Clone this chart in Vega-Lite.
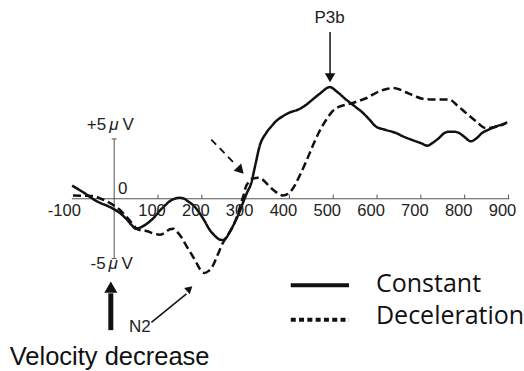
{
  "$schema": "https://vega.github.io/schema/vega-lite/v6.json",
  "width": 524,
  "height": 371,
  "padding": 0,
  "autosize": {"type": "fit", "contains": "padding"},
  "background": "white",
  "config": {"view": {"stroke": null}},
  "resolve": {"scale": {"strokeDash": "independent"}},
  "datasets": {
    "erp": [
      {"cond": "Constant", "t": -96, "v": 1.1},
      {"cond": "Constant", "t": -80, "v": 0.75},
      {"cond": "Constant", "t": -63, "v": 0.36},
      {"cond": "Constant", "t": -45, "v": -0.1},
      {"cond": "Constant", "t": -33, "v": -0.33},
      {"cond": "Constant", "t": -15, "v": -0.6},
      {"cond": "Constant", "t": 1, "v": -0.9},
      {"cond": "Constant", "t": 15, "v": -1.25},
      {"cond": "Constant", "t": 28, "v": -1.7},
      {"cond": "Constant", "t": 40, "v": -2.2},
      {"cond": "Constant", "t": 49, "v": -2.5},
      {"cond": "Constant", "t": 60, "v": -2.4},
      {"cond": "Constant", "t": 74, "v": -2.1},
      {"cond": "Constant", "t": 90, "v": -1.6},
      {"cond": "Constant", "t": 104, "v": -1.0},
      {"cond": "Constant", "t": 115, "v": -0.6},
      {"cond": "Constant", "t": 127, "v": -0.2},
      {"cond": "Constant", "t": 138, "v": 0.0},
      {"cond": "Constant", "t": 149, "v": 0.08},
      {"cond": "Constant", "t": 160, "v": 0.0},
      {"cond": "Constant", "t": 168, "v": -0.2},
      {"cond": "Constant", "t": 182, "v": -0.6},
      {"cond": "Constant", "t": 195, "v": -1.2},
      {"cond": "Constant", "t": 207, "v": -1.9},
      {"cond": "Constant", "t": 218, "v": -2.6},
      {"cond": "Constant", "t": 230, "v": -3.1},
      {"cond": "Constant", "t": 240, "v": -3.4},
      {"cond": "Constant", "t": 248, "v": -3.45},
      {"cond": "Constant", "t": 256, "v": -3.25},
      {"cond": "Constant", "t": 265, "v": -2.7},
      {"cond": "Constant", "t": 275, "v": -2.0},
      {"cond": "Constant", "t": 285, "v": -1.2},
      {"cond": "Constant", "t": 294, "v": -0.33},
      {"cond": "Constant", "t": 303, "v": 0.5},
      {"cond": "Constant", "t": 313, "v": 1.33},
      {"cond": "Constant", "t": 322, "v": 2.8},
      {"cond": "Constant", "t": 332, "v": 4.4},
      {"cond": "Constant", "t": 347, "v": 5.5},
      {"cond": "Constant", "t": 360, "v": 6.1},
      {"cond": "Constant", "t": 370, "v": 6.5},
      {"cond": "Constant", "t": 385, "v": 6.9},
      {"cond": "Constant", "t": 400, "v": 7.2},
      {"cond": "Constant", "t": 423, "v": 7.5},
      {"cond": "Constant", "t": 440, "v": 7.9},
      {"cond": "Constant", "t": 453, "v": 8.3},
      {"cond": "Constant", "t": 470, "v": 8.8},
      {"cond": "Constant", "t": 492, "v": 9.33},
      {"cond": "Constant", "t": 510, "v": 8.9},
      {"cond": "Constant", "t": 529, "v": 8.3},
      {"cond": "Constant", "t": 550, "v": 7.7},
      {"cond": "Constant", "t": 567, "v": 7.2},
      {"cond": "Constant", "t": 583, "v": 6.6},
      {"cond": "Constant", "t": 597, "v": 6.05},
      {"cond": "Constant", "t": 620, "v": 5.75},
      {"cond": "Constant", "t": 643, "v": 5.5},
      {"cond": "Constant", "t": 660, "v": 5.2},
      {"cond": "Constant", "t": 681, "v": 4.9},
      {"cond": "Constant", "t": 700, "v": 4.65},
      {"cond": "Constant", "t": 715, "v": 4.44},
      {"cond": "Constant", "t": 728, "v": 4.7},
      {"cond": "Constant", "t": 742, "v": 5.1},
      {"cond": "Constant", "t": 754, "v": 5.5},
      {"cond": "Constant", "t": 764, "v": 5.6},
      {"cond": "Constant", "t": 776, "v": 5.6},
      {"cond": "Constant", "t": 787, "v": 5.5},
      {"cond": "Constant", "t": 800, "v": 5.15},
      {"cond": "Constant", "t": 814, "v": 4.8},
      {"cond": "Constant", "t": 825, "v": 5.0},
      {"cond": "Constant", "t": 840, "v": 5.5},
      {"cond": "Constant", "t": 856, "v": 5.8},
      {"cond": "Constant", "t": 871, "v": 6.05},
      {"cond": "Constant", "t": 885, "v": 6.2},
      {"cond": "Constant", "t": 897, "v": 6.4},
      {"cond": "Deceleration", "t": -94, "v": 0.27},
      {"cond": "Deceleration", "t": -70, "v": 0.25},
      {"cond": "Deceleration", "t": -48, "v": 0.22},
      {"cond": "Deceleration", "t": -30, "v": 0.0},
      {"cond": "Deceleration", "t": -18, "v": -0.2},
      {"cond": "Deceleration", "t": 1, "v": -0.6},
      {"cond": "Deceleration", "t": 15, "v": -1.0},
      {"cond": "Deceleration", "t": 28, "v": -1.5},
      {"cond": "Deceleration", "t": 40, "v": -2.0},
      {"cond": "Deceleration", "t": 51, "v": -2.5},
      {"cond": "Deceleration", "t": 62, "v": -2.65},
      {"cond": "Deceleration", "t": 74, "v": -2.7},
      {"cond": "Deceleration", "t": 90, "v": -2.9},
      {"cond": "Deceleration", "t": 104, "v": -3.0},
      {"cond": "Deceleration", "t": 115, "v": -2.85},
      {"cond": "Deceleration", "t": 127, "v": -2.55},
      {"cond": "Deceleration", "t": 135, "v": -2.5},
      {"cond": "Deceleration", "t": 142, "v": -2.7},
      {"cond": "Deceleration", "t": 153, "v": -3.2},
      {"cond": "Deceleration", "t": 165, "v": -3.95},
      {"cond": "Deceleration", "t": 176, "v": -4.6},
      {"cond": "Deceleration", "t": 187, "v": -5.3},
      {"cond": "Deceleration", "t": 196, "v": -5.9},
      {"cond": "Deceleration", "t": 206, "v": -6.2},
      {"cond": "Deceleration", "t": 215, "v": -6.05},
      {"cond": "Deceleration", "t": 225, "v": -5.6},
      {"cond": "Deceleration", "t": 236, "v": -4.7},
      {"cond": "Deceleration", "t": 248, "v": -3.7},
      {"cond": "Deceleration", "t": 260, "v": -3.0},
      {"cond": "Deceleration", "t": 271, "v": -2.3},
      {"cond": "Deceleration", "t": 281, "v": -1.4},
      {"cond": "Deceleration", "t": 290, "v": -0.33},
      {"cond": "Deceleration", "t": 296, "v": 0.4},
      {"cond": "Deceleration", "t": 301, "v": 1.05},
      {"cond": "Deceleration", "t": 308, "v": 1.4},
      {"cond": "Deceleration", "t": 316, "v": 1.7},
      {"cond": "Deceleration", "t": 328, "v": 1.75},
      {"cond": "Deceleration", "t": 339, "v": 1.6},
      {"cond": "Deceleration", "t": 350, "v": 1.2},
      {"cond": "Deceleration", "t": 362, "v": 0.78},
      {"cond": "Deceleration", "t": 374, "v": 0.45},
      {"cond": "Deceleration", "t": 385, "v": 0.28},
      {"cond": "Deceleration", "t": 393, "v": 0.35},
      {"cond": "Deceleration", "t": 400, "v": 0.5},
      {"cond": "Deceleration", "t": 412, "v": 1.1},
      {"cond": "Deceleration", "t": 423, "v": 1.9},
      {"cond": "Deceleration", "t": 438, "v": 3.1},
      {"cond": "Deceleration", "t": 453, "v": 4.4},
      {"cond": "Deceleration", "t": 468, "v": 5.6},
      {"cond": "Deceleration", "t": 484, "v": 6.6},
      {"cond": "Deceleration", "t": 498, "v": 7.3},
      {"cond": "Deceleration", "t": 514, "v": 7.7},
      {"cond": "Deceleration", "t": 528, "v": 7.85},
      {"cond": "Deceleration", "t": 544, "v": 8.0},
      {"cond": "Deceleration", "t": 560, "v": 8.2},
      {"cond": "Deceleration", "t": 575, "v": 8.4},
      {"cond": "Deceleration", "t": 590, "v": 8.7},
      {"cond": "Deceleration", "t": 605, "v": 8.97},
      {"cond": "Deceleration", "t": 620, "v": 9.15},
      {"cond": "Deceleration", "t": 635, "v": 9.25},
      {"cond": "Deceleration", "t": 650, "v": 9.15},
      {"cond": "Deceleration", "t": 666, "v": 8.9},
      {"cond": "Deceleration", "t": 685, "v": 8.6},
      {"cond": "Deceleration", "t": 704, "v": 8.35},
      {"cond": "Deceleration", "t": 722, "v": 8.3},
      {"cond": "Deceleration", "t": 742, "v": 8.3},
      {"cond": "Deceleration", "t": 764, "v": 8.3},
      {"cond": "Deceleration", "t": 783, "v": 7.8},
      {"cond": "Deceleration", "t": 802, "v": 7.2},
      {"cond": "Deceleration", "t": 825, "v": 6.5},
      {"cond": "Deceleration", "t": 848, "v": 5.9},
      {"cond": "Deceleration", "t": 870, "v": 6.0},
      {"cond": "Deceleration", "t": 894, "v": 6.3}
    ],
    "axes": [
      {"t": -96.5, "v": 0, "t2": 902, "v2": 0},
      {"t": 0, "v": -5, "t2": 0, "v2": 5},
      {"t": -5.7, "v": 5, "t2": 5.7, "v2": 5},
      {"t": -5.7, "v": -5, "t2": 5.7, "v2": -5}
    ],
    "ticks": [
      {"t": 100, "v": 0, "v2": 0.35},
      {"t": 200, "v": 0, "v2": 0.35},
      {"t": 300, "v": 0, "v2": 0.35},
      {"t": 400, "v": 0, "v2": 0.35},
      {"t": 500, "v": 0, "v2": 0.35},
      {"t": 600, "v": 0, "v2": 0.35},
      {"t": 700, "v": 0, "v2": 0.35},
      {"t": 800, "v": 0, "v2": 0.35},
      {"t": 900, "v": 0, "v2": 0.35}
    ],
    "tickLabels": [
      {"t": -100, "v": -1.0, "label": "-100"},
      {"t": 100, "v": -1.0, "label": "100"},
      {"t": 200, "v": -1.0, "label": "200"},
      {"t": 300, "v": -1.0, "label": "300"},
      {"t": 400, "v": -1.0, "label": "400"},
      {"t": 500, "v": -1.0, "label": "500"},
      {"t": 600, "v": -1.0, "label": "600"},
      {"t": 700, "v": -1.0, "label": "700"},
      {"t": 800, "v": -1.0, "label": "800"},
      {"t": 900, "v": -1.0, "label": "900"}
    ],
    "labels": [
      {"t": -40.3, "v": 6.19, "label": "+5"},
      {"t": 31.7, "v": 6.19, "label": "V"},
      {"t": -36.7, "v": -5.47, "label": "-5"},
      {"t": 29.8, "v": -5.47, "label": "V"},
      {"t": 19.6, "v": 0.78, "label": "0"},
      {"t": 491.5, "v": 15.1, "label": "P3b"},
      {"t": 58.5, "v": -10.75, "label": "N2"}
    ],
    "italics": [
      {"t": -0.9, "v": 6.19, "label": "μ"},
      {"t": -2.5, "v": -5.47, "label": "μ"}
    ],
    "caption": [
      {"t": -10.4, "v": -13.2, "label": "Velocity decrease"}
    ],
    "legendLines": [
      {"cond": "Constant", "t": 403, "v": -7.23},
      {"cond": "Constant", "t": 536, "v": -7.23},
      {"cond": "Deceleration", "t": 403, "v": -10.12},
      {"cond": "Deceleration", "t": 536, "v": -10.12}
    ],
    "legendText": [
      {"t": 597.5, "v": -7.83, "label": "Constant"},
      {"t": 597.5, "v": -10.48, "label": "Deceleration"}
    ],
    "thinShafts": [
      {"t": 492.7, "v": 13.94, "t2": 492.7, "v2": 10.4},
      {"t": 85, "v": -10.33, "t2": 165, "v2": -7.95}
    ],
    "dashShaft": [
      {"t": 221.6, "v": 4.94, "t2": 279.3, "v2": 2.78}
    ],
    "thickShaft": [
      {"t": -7.7, "v": -10.98, "t2": -7.7, "v2": -7.9}
    ],
    "headP3b": [{"t": 492.7, "v": 10.11}],
    "headDash": [{"t": 288.4, "v": 2.36}],
    "headN2": [{"t": 172.2, "v": -7.52}],
    "headVel": [{"t": -7.7, "v": -7.39}]
  },
  "encoding": {
    "x": {"field": "t", "type": "quantitative", "scale": {"domain": [-260.6, 933.1], "nice": false, "zero": false}, "axis": null},
    "y": {"field": "v", "type": "quantitative", "scale": {"domain": [-14.31, 16.61], "nice": false, "zero": false}, "axis": null}
  },
  "layer": [
    {
      "data": {"name": "axes"},
      "mark": {"type": "rule", "color": "#555555", "strokeWidth": 1},
      "encoding": {"x2": {"field": "t2"}, "y2": {"field": "v2"}}
    },
    {
      "data": {"name": "ticks"},
      "mark": {"type": "rule", "color": "#555555", "strokeWidth": 1},
      "encoding": {"y2": {"field": "v2"}}
    },
    {
      "data": {"name": "erp"},
      "mark": {"type": "line", "interpolate": "monotone", "color": "#111111", "strokeWidth": 2.5},
      "encoding": {
        "detail": {"field": "cond"},
        "strokeDash": {"field": "cond", "type": "nominal", "scale": {"domain": ["Constant", "Deceleration"], "range": [[1, 0], [8, 4]]}, "legend": null}
      }
    },
    {
      "data": {"name": "legendLines"},
      "mark": {"type": "line", "color": "#111111", "strokeWidth": 4},
      "encoding": {
        "detail": {"field": "cond"},
        "strokeDash": {"field": "cond", "type": "nominal", "scale": {"domain": ["Constant", "Deceleration"], "range": [[1, 0], [5, 3.3]]}, "legend": null}
      }
    },
    {
      "data": {"name": "tickLabels"},
      "mark": {"type": "text", "font": "Liberation Sans", "fontSize": 16.5, "color": "#222222", "align": "center", "baseline": "middle", "dx": -6},
      "encoding": {"text": {"field": "label"}}
    },
    {
      "data": {"name": "labels"},
      "mark": {"type": "text", "font": "Liberation Sans", "fontSize": 17, "color": "#222222", "align": "center", "baseline": "middle"},
      "encoding": {"text": {"field": "label"}}
    },
    {
      "data": {"name": "italics"},
      "mark": {"type": "text", "font": "Liberation Sans", "fontSize": 17, "fontStyle": "italic", "color": "#222222", "align": "center", "baseline": "middle"},
      "encoding": {"text": {"field": "label"}}
    },
    {
      "data": {"name": "caption"},
      "mark": {"type": "text", "font": "Liberation Sans", "fontSize": 25.5, "color": "#111111", "align": "center", "baseline": "middle"},
      "encoding": {"text": {"field": "label"}}
    },
    {
      "data": {"name": "legendText"},
      "mark": {"type": "text", "font": "Open Sans", "fontSize": 25, "color": "#111111", "align": "left", "baseline": "alphabetic"},
      "encoding": {"text": {"field": "label"}}
    },
    {
      "data": {"name": "thinShafts"},
      "mark": {"type": "rule", "color": "#111111", "strokeWidth": 1.5},
      "encoding": {"x2": {"field": "t2"}, "y2": {"field": "v2"}}
    },
    {
      "data": {"name": "dashShaft"},
      "mark": {"type": "rule", "color": "#111111", "strokeWidth": 1.8, "strokeDash": [7, 5]},
      "encoding": {"x2": {"field": "t2"}, "y2": {"field": "v2"}}
    },
    {
      "data": {"name": "thickShaft"},
      "mark": {"type": "rule", "color": "#111111", "strokeWidth": 5},
      "encoding": {"x2": {"field": "t2"}, "y2": {"field": "v2"}}
    },
    {
      "data": {"name": "headP3b"},
      "mark": {"type": "point", "shape": "triangle-down", "filled": true, "color": "#111111", "size": 110, "opacity": 1}
    },
    {
      "data": {"name": "headDash"},
      "mark": {"type": "point", "shape": "triangle-down", "angle": 316.6, "filled": true, "color": "#111111", "size": 110, "opacity": 1}
    },
    {
      "data": {"name": "headN2"},
      "mark": {"type": "point", "shape": "triangle-up", "angle": 48.4, "filled": true, "color": "#111111", "size": 70, "opacity": 1}
    },
    {
      "data": {"name": "headVel"},
      "mark": {"type": "point", "shape": "triangle-up", "filled": true, "color": "#111111", "size": 170, "opacity": 1}
    }
  ]
}
